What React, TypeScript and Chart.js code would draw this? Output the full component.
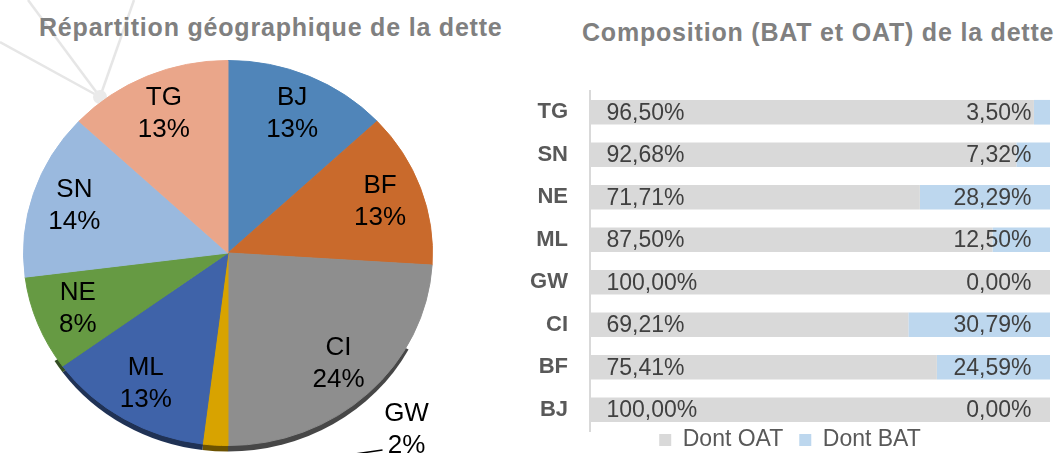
import React, { useEffect, useRef } from 'react';
import { Chart, registerables } from 'chart.js';

Chart.register(...registerables);

// ---------- data ----------
const pieLabels = ['BJ', 'BF', 'CI', 'GW', 'ML', 'NE', 'SN', 'TG'];
const pieValues = [13, 13, 24, 2, 13, 8, 14, 13];
const pieColors = ['#5085b9', '#c96a2c', '#8e8e8e', '#d8a300', '#3f63a9', '#669a43', '#9ab9de', '#eaa68a'];

const barCategories = ['TG', 'SN', 'NE', 'ML', 'GW', 'CI', 'BF', 'BJ'];
const oatValues = [96.5, 92.68, 71.71, 87.5, 100, 69.21, 75.41, 100];
const batValues = [3.5, 7.32, 28.29, 12.5, 0, 30.79, 24.59, 0];
const seriesNames = ['Dont OAT', 'Dont BAT'];
const seriesColors = ['#d9d9d9', '#bdd7ee'];

const pieTitle = 'Répartition géographique de la dette';
const barTitle = 'Composition (BAT et OAT) de la dette';

// ---------- style ----------
const FONT = '"Liberation Sans", Arial, Helvetica, sans-serif';
const TILT = 193 / 205; // vertical squash of the 3D-looking pie
const DEPTH = 6;
const RIM_FROM = (28 * Math.PI) / 180;
const RIM_TO = (148 * Math.PI) / 180;

function darken(hex: string, f: number) {
  const n = parseInt(hex.slice(1), 16);
  const r = Math.round(((n >> 16) & 255) * f);
  const g = Math.round(((n >> 8) & 255) * f);
  const b = Math.round((n & 255) * f);
  return `rgb(${r},${g},${b})`;
}

const fmtPct = (v: number) => v.toFixed(2).replace('.', ',') + '%';

const pieDecor = {
  id: 'pieDecor',
  beforeDatasetsDraw(chart: any) {
    const ctx = chart.ctx;
    const meta = chart.getDatasetMeta(0);
    const a0 = meta.data[0];
    const cx = a0.x;
    const cy = a0.y;
    ctx.save();
    ctx.translate(0, cy);
    ctx.scale(1, TILT);
    ctx.translate(0, -cy);
    const dd = DEPTH / TILT;
    meta.data.forEach((arc: any, i: number) => {
      const { startAngle, endAngle, outerRadius } = arc.getProps(['startAngle', 'endAngle', 'outerRadius']);
      // normalise into [0, 2PI)
      const twoPi = Math.PI * 2;
      let s = startAngle % twoPi;
      if (s < 0) s += twoPi;
      let e = s + (endAngle - startAngle);
      const from = Math.max(s, RIM_FROM);
      const to = Math.min(e, RIM_TO);
      if (to <= from) return;
      ctx.beginPath();
      ctx.moveTo(cx, cy + dd);
      ctx.arc(cx, cy + dd, outerRadius, from, to);
      ctx.closePath();
      ctx.fillStyle = darken(pieColors[i], 0.5);
      ctx.fill();
    });
  },
  afterDatasetsDraw(chart: any) {
    const ctx = chart.ctx;
    ctx.restore();
    const meta = chart.getDatasetMeta(0);
    const total = pieValues.reduce((a, b) => a + b, 0);
    ctx.save();
    ctx.font = `26px ${FONT}`;
    ctx.fillStyle = '#000';
    ctx.textAlign = 'center';
    ctx.textBaseline = 'middle';
    meta.data.forEach((arc: any, i: number) => {
      const { x: cx, y: cy, startAngle, endAngle, outerRadius: r } = arc.getProps(['x', 'y', 'startAngle', 'endAngle', 'outerRadius']);
      const mid = (startAngle + endAngle) / 2;
      const share = pieValues[i] / total;
      const pct = Math.round(share * 100) + '%';
      let x: number;
      let y: number;
      if (share < 0.05) {
        x = cx + r * 0.873;
        y = cy + r * 0.863;
        ctx.save();
        ctx.strokeStyle = '#000';
        ctx.lineWidth = 1.5;
        ctx.beginPath();
        ctx.moveTo(x - 24, y + 20.5);
        ctx.lineTo(x - 62, y + 26);
        ctx.stroke();
        ctx.restore();
      } else {
        x = cx + Math.cos(mid) * r * 0.79;
        y = cy + Math.sin(mid) * r * 0.79 * TILT;
      }
      ctx.fillText(pieLabels[i], x, y - 16);
      ctx.fillText(pct, x, y + 16);
    });
    ctx.restore();
  },
};

const barLabels = {
  id: 'barLabels',
  afterDatasetsDraw(chart: any) {
    const ctx = chart.ctx;
    ctx.save();
    ctx.font = `23px ${FONT}`;
    ctx.fillStyle = '#404040';
    ctx.textBaseline = 'middle';
    chart.data.datasets.forEach((ds: any, di: number) => {
      const meta = chart.getDatasetMeta(di);
      meta.data.forEach((bar: any, i: number) => {
        const { x, y, base } = bar.getProps(['x', 'y', 'base']);
        const txt = fmtPct(ds.data[i]);
        if (di === 0) {
          ctx.textAlign = 'left';
          ctx.fillText(txt, base + 16.5, y + 1);
        } else {
          ctx.textAlign = 'right';
          ctx.fillText(txt, x - 18.5, y + 1);
        }
      });
    });
    ctx.restore();
  },
};

const legendNudge = {
  id: 'legendNudge',
  afterLayout(chart: any) {
    const lg = chart.legend;
    if (lg) {
      lg.top -= 18.5;
      lg.bottom -= 18.5;
    }
  },
};

export default function App() {
  const pieRef = useRef<HTMLCanvasElement | null>(null);
  const barRef = useRef<HTMLCanvasElement | null>(null);

  useEffect(() => {
    Chart.defaults.font.family = FONT;
    const pie = new Chart(pieRef.current as HTMLCanvasElement, {
      type: 'pie',
      data: {
        labels: pieLabels,
        datasets: [
          {
            data: pieValues,
            backgroundColor: pieColors,
            borderColor: pieColors,
            borderWidth: 1,
            clip: false,
          } as any,
        ],
      },
      options: {
        responsive: false,
        animation: false,
        layout: { padding: { left: 23, right: 23, top: 48, bottom: 12 } },
        plugins: { legend: { display: false }, tooltip: { enabled: false } },
      },
      plugins: [pieDecor],
    });

    const bar = new Chart(barRef.current as HTMLCanvasElement, {
      type: 'bar',
      data: {
        labels: barCategories,
        datasets: [
          {
            label: seriesNames[0],
            data: oatValues,
            backgroundColor: seriesColors[0],
            borderWidth: 0,
            barPercentage: 0.58,
            categoryPercentage: 1,
          },
          {
            label: seriesNames[1],
            data: batValues,
            backgroundColor: seriesColors[1],
            borderWidth: 0,
            barPercentage: 0.58,
            categoryPercentage: 1,
          },
        ],
      },
      options: {
        indexAxis: 'y',
        responsive: false,
        animation: false,
        layout: { padding: { top: 91, right: 9, left: 0, bottom: 0 } },
        scales: {
          x: { stacked: true, display: false, min: 0, max: 100 },
          y: {
            stacked: true,
            grid: { drawOnChartArea: false, drawTicks: false },
            border: { display: true, color: '#d9d9d9', width: 2 },
            ticks: {
              padding: 22,
              color: '#595959',
              font: { size: 22, weight: 'bold', family: FONT },
            },
            afterFit(scale: any) {
              scale.width = 60;
            },
          } as any,
        },
        plugins: {
          legend: {
            position: 'bottom',
            labels: {
              boxWidth: 12,
              boxHeight: 12,
              padding: 16,
              color: '#595959',
              font: { size: 23, family: FONT },
            },
          },
          tooltip: { enabled: false },
        },
      },
      plugins: [barLabels, legendNudge],
    });

    return () => {
      pie.destroy();
      bar.destroy();
    };
  }, []);

  const titleStyle: React.CSSProperties = {
    position: 'absolute',
    whiteSpace: 'nowrap',
    fontFamily: FONT,
    fontWeight: 'bold',
    fontSize: 25,
    lineHeight: '25px',
    letterSpacing: '0.8px',
    color: '#808080',
  };

  return (
    <div
      style={{
        position: 'fixed',
        left: 0,
        top: 0,
        width: 1059,
        height: 453,
        overflow: 'hidden',
        background: '#ffffff',
      }}
    >
      <svg width={200} height={140} style={{ position: 'absolute', left: 0, top: 0 }}>
        <g stroke="#e6e6e6" strokeWidth={2.5} fill="none">
          <line x1={100} y1={97} x2={28} y2={0} />
          <line x1={100} y1={97} x2={0} y2={42} />
          <line x1={100} y1={97} x2={134} y2={0} />
        </g>
        <circle cx={100} cy={97} r={7} fill="#eaeaea" />
      </svg>
      <div style={{ ...titleStyle, left: 39, top: 15 }}>{pieTitle}</div>
      <div style={{ ...titleStyle, left: 582, top: 19.5 }}>{barTitle}</div>
      <canvas
        ref={pieRef}
        width={456}
        height={470}
        style={{ position: 'absolute', left: 0, top: 0, width: 456, height: 470 }}
      />
      <canvas
        ref={barRef}
        width={529}
        height={480}
        style={{ position: 'absolute', left: 530, top: 0, width: 529, height: 480 }}
      />
    </div>
  );
}
